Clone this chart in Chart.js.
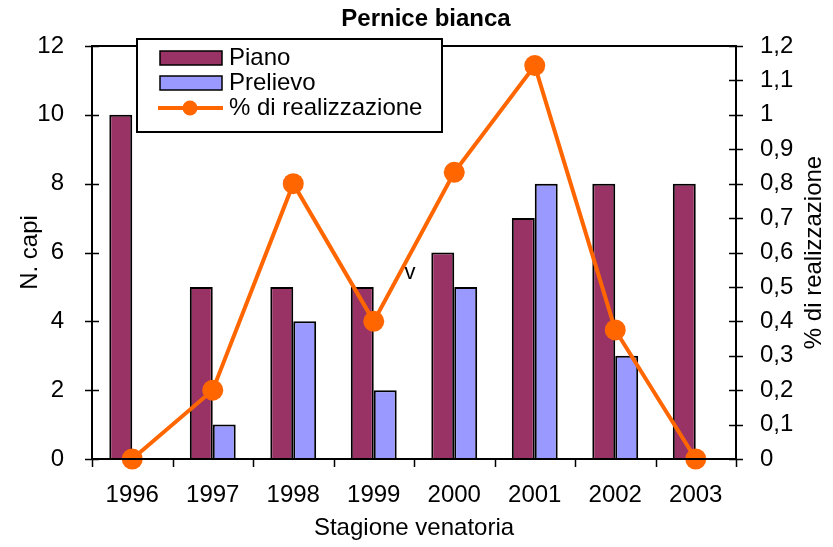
<!DOCTYPE html>
<html>
<head>
<meta charset="utf-8">
<script src="https://cdn.jsdelivr.net/npm/chart.js@4.4.1/dist/chart.umd.min.js"></script>
<style>
  html, body { margin: 0; padding: 0; background: #fff; }
  #wrap { width: 833px; height: 547px; }
</style>
</head>
<body>
<div id="wrap"><canvas id="myChart" width="833" height="547"></canvas></div>
<script>
// stagioni venatorie e capi
const stagioni = ['1996', '1997', '1998', '1999', '2000', '2001', '2002', '2003'];
const piano = [10, 5, 5, 5, 6, 7, 8, 8];
const prelievo = [0, 1, 4, 2, 5, 8, 3, 0];
const realizzazione = [0, 0.2, 0.8, 0.4, 0.833, 1.143, 0.375, 0];

const FONT = '"Liberation Sans", Arial, sans-serif';
const colPiano = '#993366';
const colPrelievo = '#9999FF';
const colLine = '#FF6600';

const fmtComma = v => String(Math.round(v * 10) / 10).replace('.', ',');

// titolo, titoli degli assi verticali, cornice, tacche, legenda
const decor = {
  id: 'decor',
  afterDatasetsDraw(chart) {
    const ctx = chart.ctx;
    const a = chart.chartArea;
    ctx.save();
    ctx.strokeStyle = '#000';
    ctx.lineWidth = 2;
    ctx.strokeRect(a.left, a.top, a.right - a.left, a.bottom - a.top);

    ctx.lineWidth = 1.5;
    ctx.beginPath();
    for (const id of ['y', 'y1']) {
      const s = chart.scales[id];
      const x = id === 'y' ? a.left : a.right;
      s.ticks.forEach(t => {
        const py = Math.round(s.getPixelForValue(t.value)) + 0.5;
        ctx.moveTo(x - 7, py);
        ctx.lineTo(x + 7, py);
      });
    }
    const step = (a.right - a.left) / stagioni.length;
    for (let i = 0; i <= stagioni.length; i++) {
      const px = Math.round(a.left + i * step) + 0.5;
      ctx.moveTo(px, a.bottom);
      ctx.lineTo(px, a.bottom + 8);
    }
    ctx.stroke();

    // "v" vagante nel grafico
    ctx.fillStyle = '#000';
    ctx.font = '22px ' + FONT;
    ctx.textAlign = 'center';
    ctx.textBaseline = 'alphabetic';
    ctx.fillText('v', 410, 279);
    ctx.restore();
  },
  afterDraw(chart) {
    const ctx = chart.ctx;
    const a = chart.chartArea;
    const midY = (a.top + a.bottom) / 2;
    ctx.save();
    ctx.fillStyle = '#000';
    ctx.font = 'bold 24px ' + FONT;
    ctx.textAlign = 'center';
    ctx.textBaseline = 'middle';
    ctx.fillText('Pernice bianca', 426, 19);

    // titoli degli assi verticali, entrambi letti dal basso
    ctx.font = '24px ' + FONT;
    ctx.save();
    ctx.translate(30, midY);
    ctx.rotate(-Math.PI / 2);
    ctx.fillText('N. capi', 0, 0);
    ctx.restore();
    ctx.save();
    ctx.translate(814, midY);
    ctx.rotate(-Math.PI / 2);
    ctx.fillText('% di realizzazione', 0, 0);
    ctx.restore();

    // legenda
    ctx.fillStyle = '#fff';
    ctx.fillRect(137, 39, 305, 93);
    ctx.strokeStyle = '#000';
    ctx.lineWidth = 2;
    ctx.strokeRect(137, 39, 305, 93);

    const ds = chart.data.datasets;
    ctx.lineWidth = 1.5;
    ctx.fillStyle = colPiano;
    ctx.fillRect(160, 51, 62, 14);
    ctx.strokeRect(160, 51, 62, 14);
    ctx.fillStyle = colPrelievo;
    ctx.fillRect(160, 76, 62, 14);
    ctx.strokeRect(160, 76, 62, 14);

    ctx.strokeStyle = colLine;
    ctx.lineWidth = 4;
    ctx.beginPath();
    ctx.moveTo(158, 108);
    ctx.lineTo(223, 108);
    ctx.stroke();
    ctx.fillStyle = colLine;
    ctx.beginPath();
    ctx.arc(190, 108, 7.5, 0, Math.PI * 2);
    ctx.fill();

    ctx.fillStyle = '#000';
    ctx.font = '24px ' + FONT;
    ctx.textAlign = 'left';
    ctx.fillText(ds[1].label, 229, 58);
    ctx.fillText(ds[2].label, 229, 83);
    ctx.fillText(ds[0].label, 229, 108);
    ctx.restore();
  }
};

new Chart('myChart', {
  data: {
    labels: stagioni,
    datasets: [
      {
        type: 'line',
        label: '% di realizzazione',
        data: realizzazione,
        yAxisID: 'y1',
        borderColor: colLine,
        backgroundColor: colLine,
        borderWidth: 4,
        pointRadius: 10.5,
        pointBorderWidth: 0,
        pointBackgroundColor: colLine,
        tension: 0,
        clip: false,
        order: 0
      },
      {
        type: 'bar',
        label: 'Piano',
        data: piano,
        yAxisID: 'y',
        backgroundColor: colPiano,
        borderColor: '#000',
        borderWidth: 2,
        barPercentage: 1,
        categoryPercentage: 0.57,
        order: 1
      },
      {
        type: 'bar',
        label: 'Prelievo',
        data: prelievo,
        yAxisID: 'y',
        backgroundColor: colPrelievo,
        borderColor: '#000',
        borderWidth: 2,
        barPercentage: 1,
        categoryPercentage: 0.57,
        order: 2
      }
    ]
  },
  options: {
    responsive: false,
    animation: false,
    layout: { padding: { top: 46, left: 0, right: 0, bottom: 0 } },
    plugins: {
      legend: { display: false },
      title: { display: false },
      tooltip: { enabled: false }
    },
    scales: {
      x: {
        offset: true,
        grid: { display: false },
        border: { display: false },
        ticks: { color: '#000', font: { family: FONT, size: 24 }, padding: 14, maxRotation: 0 },
        title: { display: true, text: 'Stagione venatoria', color: '#000', font: { family: FONT, size: 24 }, padding: { top: 4 } },
        afterFit: s => { s.height = 88; }
      },
      y: {
        position: 'left',
        min: 0, max: 12,
        grid: { display: false },
        border: { display: false },
        ticks: { stepSize: 2, color: '#000', font: { family: FONT, size: 24 }, padding: 20 },
        afterFit: s => { s.width = 92; }
      },
      y1: {
        position: 'right',
        min: 0, max: 1.2,
        grid: { display: false },
        border: { display: false },
        ticks: { stepSize: 0.1, color: '#000', font: { family: FONT, size: 24 }, padding: 16,
          callback: v => fmtComma(v) },
        afterFit: s => { s.width = 97; }
      }
    }
  },
  plugins: [decor]
});
</script>
</body>
</html>
